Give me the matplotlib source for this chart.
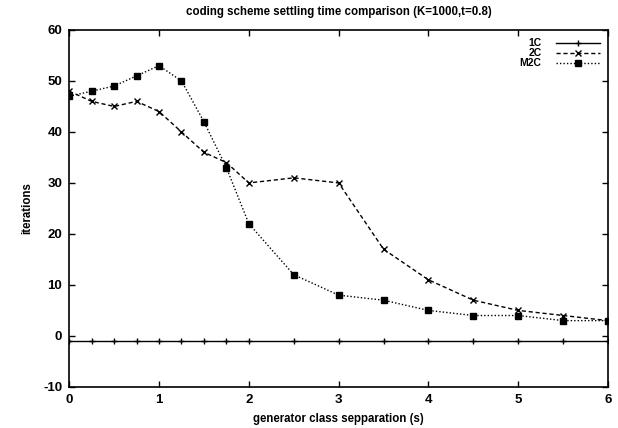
import matplotlib
matplotlib.use("Agg")
import matplotlib.pyplot as plt

plt.rcParams['font.family'] = ['Liberation Sans', 'DejaVu Sans']
plt.rcParams['axes.unicode_minus'] = False

# separation values (s)
x_sep = [0, 0.25, 0.5, 0.75, 1, 1.25, 1.5, 1.75, 2, 2.5, 3, 3.5, 4, 4.5, 5, 5.5, 6]

# iterations per coding scheme
iter_1c = [-1] * len(x_sep)
iter_2c = [48, 46, 45, 46, 44, 40, 36, 34, 30, 31, 30, 17, 11, 7, 5, 4, 3]
iter_m2c = [47, 48, 49, 51, 53, 50, 42, 33, 22, 12, 8, 7, 5, 4, 4, 3, 3]

x_ticks = [0, 1, 2, 3, 4, 5, 6]
y_ticks = [-10, 0, 10, 20, 30, 40, 50, 60]

fig = plt.figure(figsize=(6.18, 4.28), dpi=100)
ax = fig.add_axes([0.112, 0.096, 0.872, 0.834])

ax.plot(x_sep, iter_1c, color='black', linestyle='-', linewidth=1.0,
        marker='+', markersize=5, markeredgewidth=1.0, label='1C')
ax.plot(x_sep, iter_2c, color='black', linestyle=(0, (3, 2)), linewidth=1.0,
        marker='x', markersize=5, markeredgewidth=1.0, label='2C')
ax.plot(x_sep, iter_m2c, color='black', linestyle=(0, (1, 1.5)), linewidth=1.0,
        marker='s', markersize=4, markeredgewidth=1.0, label='M2C')

ax.set_xlim(0, 6)
ax.set_ylim(-10, 60)
ax.set_xticks(x_ticks)
ax.set_yticks(y_ticks)
ax.tick_params(direction='in', top=True, right=True, length=4, width=1,
               labelsize=9.5, pad=5)
for lbl in ax.get_xticklabels() + ax.get_yticklabels():
    lbl.set_fontweight('bold')
for sp in ax.spines.values():
    sp.set_linewidth(1.2)

ax.set_title('coding scheme settling time comparison (K=1000,t=0.8)',
             fontsize=8.3, fontweight='bold', pad=11)
ax.set_xlabel('generator class sepparation (s)', fontsize=8.3,
              fontweight='bold', labelpad=5)
ax.set_ylabel('iterations', fontsize=8.3, fontweight='bold', labelpad=7)

ax.legend(loc='upper right', frameon=False, markerfirst=False, fontsize=7.5,
          handlelength=4.2, handletextpad=1.4, labelspacing=0.0,
          borderaxespad=0.5, borderpad=0.3)
for txt in ax.get_legend().get_texts():
    txt.set_fontweight('bold')
    txt.set_horizontalalignment('right')

fig.savefig('out.png', dpi=100)
